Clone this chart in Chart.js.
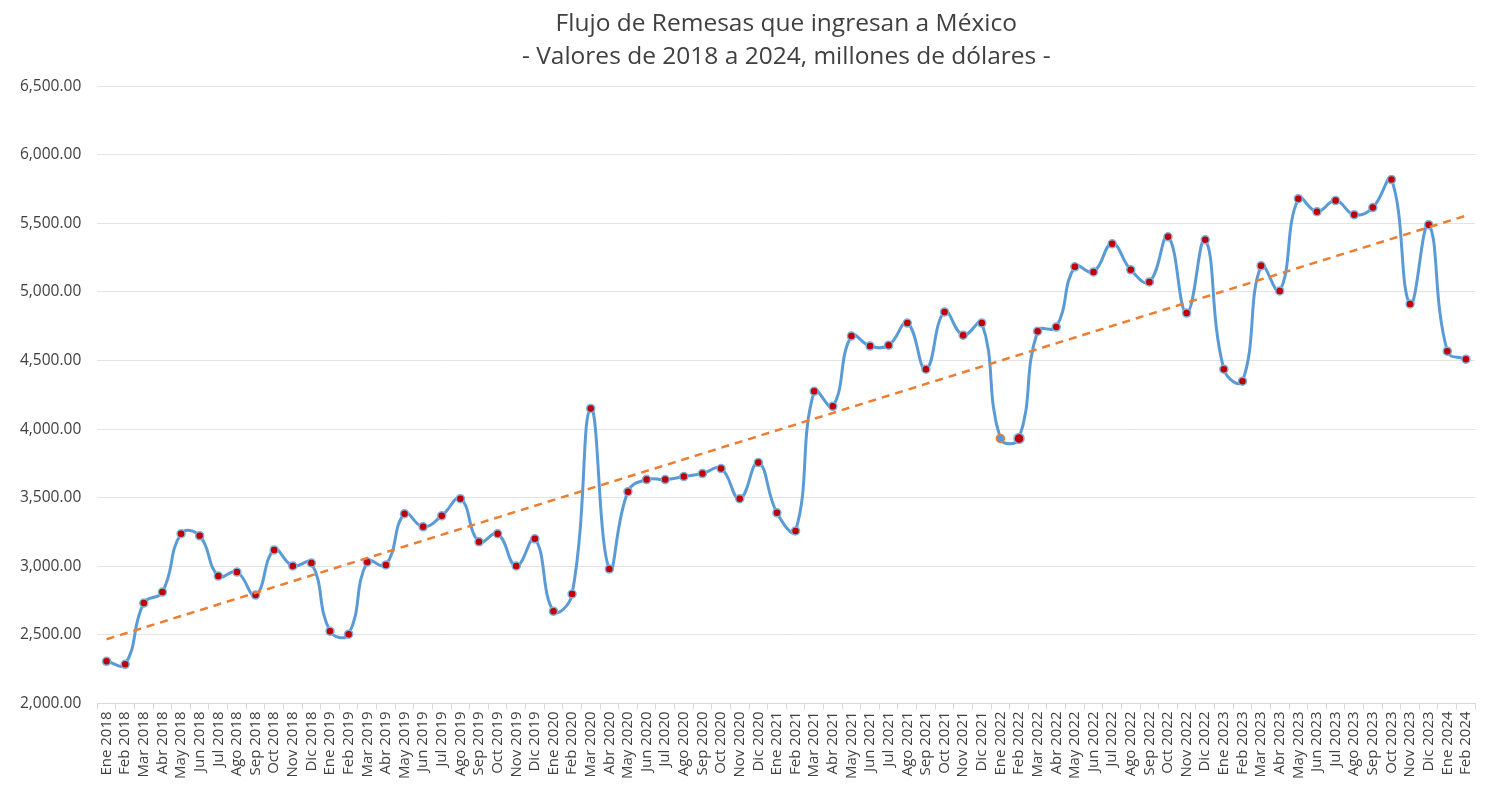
<!DOCTYPE html>
<html lang="es">
<head>
<meta charset="utf-8">
<title>Flujo de Remesas</title>
<script src="https://cdn.jsdelivr.net/npm/chart.js@4.4.1/dist/chart.umd.min.js"></script>
<style>
  html, body { margin: 0; padding: 0; background: #fff; }
  #wrap { width: 1486px; height: 793px; position: relative; }
</style>
</head>
<body>
<div id="wrap"><canvas id="remesas-chart"></canvas></div>
<script>
const months = ['Ene', 'Feb', 'Mar', 'Abr', 'May', 'Jun', 'Jul', 'Ago', 'Sep', 'Oct', 'Nov', 'Dic'];
const years = [2018, 2019, 2020, 2021, 2022, 2023, 2024];

// Ene 2018 .. Feb 2024
const categories = [];
years.forEach(y => months.forEach(m => categories.push(m + ' ' + y)));
categories.length = 74;

// millones de dólares
const remesas = [
  2307, 2285, 2732, 2812, 3237, 3222, 2929, 2958, 2790, 3119, 3002, 3024,
  2527, 2505, 3032, 3010, 3383, 3288, 3368, 3493, 3178, 3237, 3002, 3200,
  2673, 2798, 4151, 2980, 3544, 3632, 3632, 3654, 3676, 3712, 3493, 3756,
  3390, 3258, 4275, 4166, 4678, 4605, 4612, 4773, 4437, 4854, 4685, 4773,
  3932, 3932, 4714, 4744, 5183, 5146, 5351, 5161, 5073, 5402, 4846, 5380,
  4437, 4349, 5190, 5007, 5680, 5585, 5666, 5563, 5615, 5819, 4912, 5490,
  4568, 4510
];

// trend line ends
const trendStart = 2468;
const trendEnd = 5556;

const yTicks = [2000, 2500, 3000, 3500, 4000, 4500, 5000, 5500, 6000, 6500];

const trend = categories.map((_, i) => {
  if (i === 0) return trendStart;
  if (i === categories.length - 1) return trendEnd;
  return null;
});

// highlighted points (Ene / Feb 2022)
const pointFill = remesas.map((_, i) => i === 48 ? '#5B9BD5' : '#C00000');
const pointEdge = remesas.map((_, i) => i === 48 ? '#ED7D31' : '#7FB0DE');
const pointSize = remesas.map((_, i) => i === 49 ? 5 : 4);

const font = "'Open Sans', 'Noto Sans', sans-serif";

new Chart(document.getElementById('remesas-chart'), {
  type: 'line',
  data: {
    labels: categories,
    datasets: [
      {
        label: 'Remesas',
        data: remesas,
        borderColor: '#5B9BD5',
        borderWidth: 3,
        tension: 0.45,
        pointRadius: pointSize,
        pointBackgroundColor: pointFill,
        pointBorderColor: pointEdge,
        pointBorderWidth: 1.5,
        order: 2
      },
      {
        label: 'Tendencia',
        data: trend,
        borderColor: '#ED7D31',
        borderWidth: 2.5,
        borderDash: [8, 6],
        pointRadius: 0,
        spanGaps: true,
        tension: 0,
        order: 1
      }
    ]
  },
  options: {
    responsive: true,
    maintainAspectRatio: false,
    animation: false,
    layout: { padding: { top: 7, right: 6, left: 4, bottom: 12 } },
    plugins: {
      legend: { display: false },
      tooltip: { enabled: false },
      title: {
        display: true,
        fullSize: false,
        text: ['Flujo de Remesas que ingresan a México', '- Valores de 2018 a 2024, millones de dólares -'],
        color: '#404040',
        font: { family: font, size: 24.5, weight: 'normal', lineHeight: 1.35 },
        padding: { top: 0, bottom: 13 }
      }
    },
    scales: {
      x: {
        offset: true,
        grid: {
          offset: true,
          drawOnChartArea: false,
          color: '#D9D9D9',
          tickLength: 6
        },
        border: { color: '#D9D9D9' },
        ticks: {
          autoSkip: false,
          minRotation: 90,
          maxRotation: 90,
          color: '#404040',
          padding: 2,
          font: { family: font, size: 15 }
        }
      },
      y: {
        min: yTicks[0],
        max: yTicks[yTicks.length - 1],
        afterBuildTicks: axis => { axis.ticks = yTicks.map(v => ({ value: v })); },
        grid: { color: '#E3E3E3', drawTicks: false },
        border: { display: false },
        ticks: {
          color: '#404040',
          padding: 16,
          font: { family: font, size: 15.5 },
          callback: v => v.toLocaleString('en-US', { minimumFractionDigits: 2, maximumFractionDigits: 2 })
        }
      }
    }
  }
});
</script>
</body>
</html>
